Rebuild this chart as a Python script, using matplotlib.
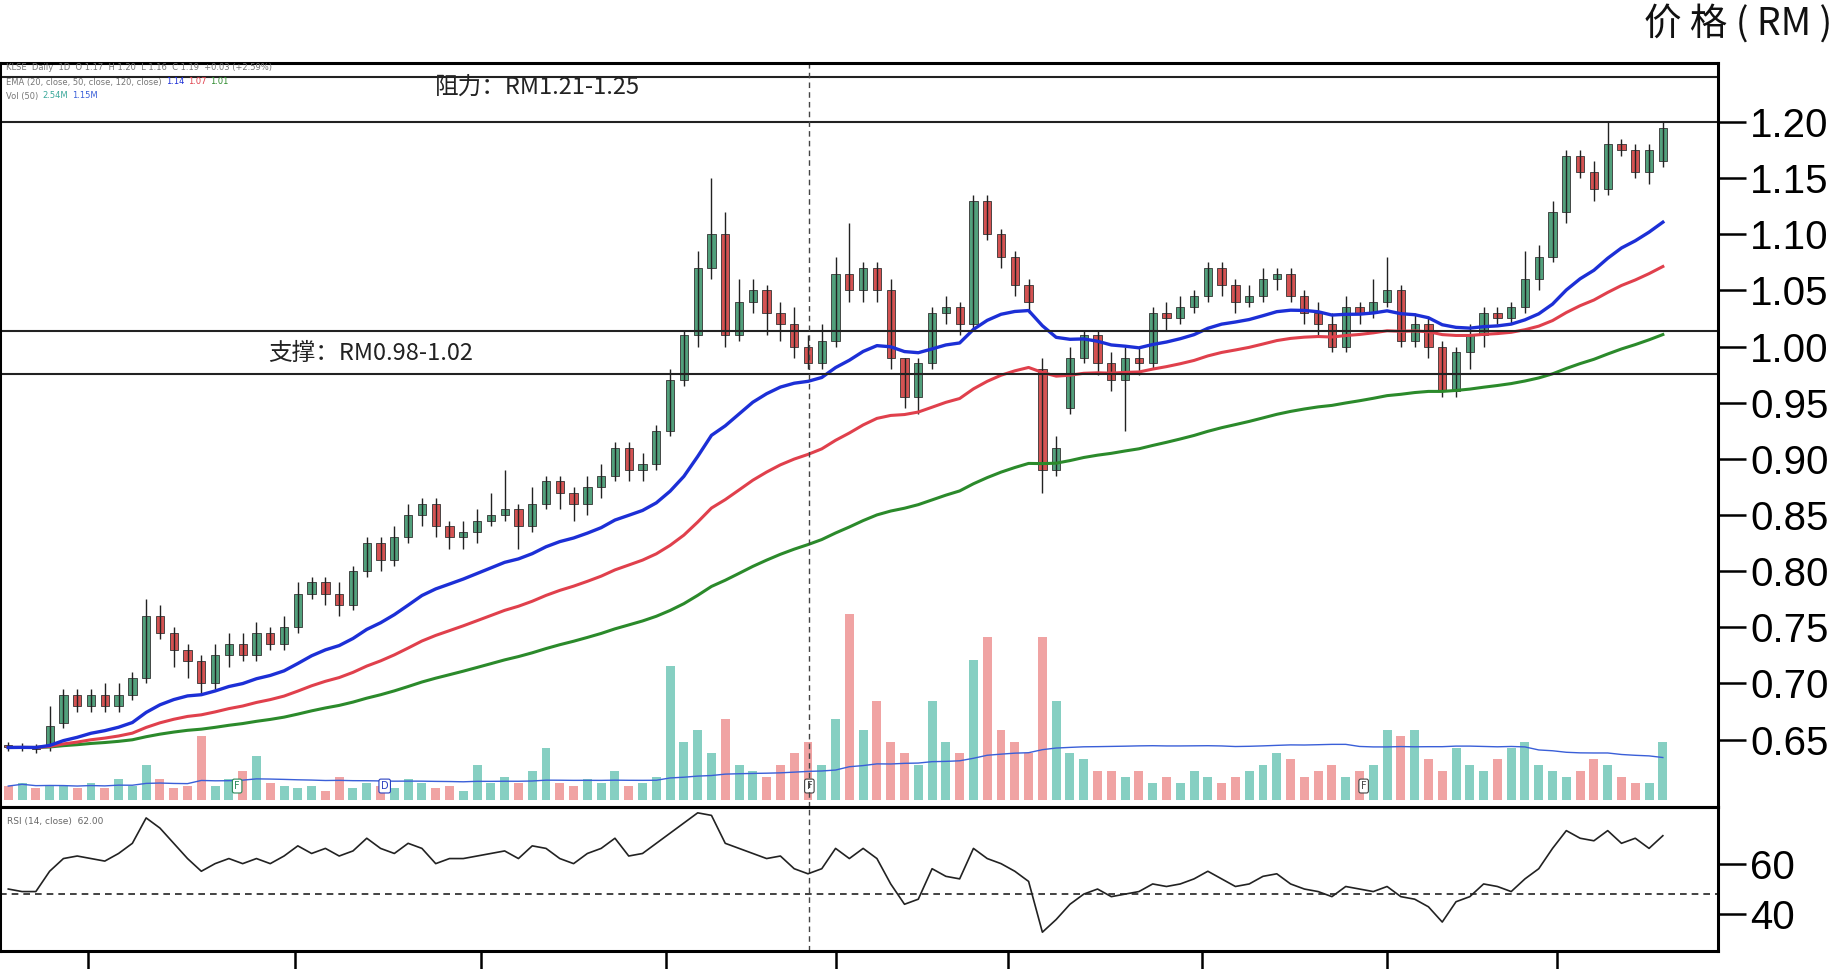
import numpy as np
import pandas as pd
import matplotlib
matplotlib.use("Agg")
import matplotlib.pyplot as plt

opens = [.645,.643,.644,.645,.665,.690,.680,.690,.680,.690,
         .705,.760,.745,.730,.720,.700,.725,.735,.725,.745,
         .735,.750,.780,.790,.780,.770,.800,.825,.810,.830,
         .850,.860,.840,.830,.835,.845,.850,.855,.840,.860,
         .880,.870,.860,.875,.885,.910,.890,.895,.925,.970,
         1.010,1.070,1.100,1.010,1.040,1.050,1.030,1.020,1.000,.985,
         1.005,1.065,1.050,1.070,1.050,.990,.955,.985,1.030,1.035,
         1.020,1.130,1.100,1.080,1.055,.980,.890,.945,.990,1.010,
         .985,.970,.990,.985,1.030,1.025,1.035,1.045,1.070,1.055,
         1.040,1.045,1.060,1.065,1.045,1.030,1.020,1.000,1.035,1.030,
         1.040,1.050,1.005,1.020,1.000,.960,.995,1.010,1.030,1.025,
         1.035,1.060,1.080,1.120,1.170,1.155,1.140,1.180,1.175,1.155,1.165]
closes = [.643,.644,.642,.662,.690,.680,.690,.680,.690,.705,
          .760,.745,.730,.720,.700,.725,.735,.725,.745,.735,
          .750,.780,.790,.780,.770,.800,.825,.810,.830,.850,
          .860,.840,.830,.835,.845,.850,.855,.840,.860,.880,
          .870,.860,.875,.885,.910,.890,.895,.925,.970,1.010,
          1.070,1.100,1.010,1.040,1.050,1.030,1.020,1.000,.985,1.005,
          1.065,1.050,1.070,1.050,.990,.955,.985,1.030,1.035,1.020,
          1.130,1.100,1.080,1.055,1.040,.890,.910,.990,1.010,.985,
          .970,.990,.985,1.030,1.025,1.035,1.045,1.070,1.055,1.040,
          1.045,1.060,1.065,1.045,1.030,1.020,1.000,1.035,1.030,1.040,
          1.050,1.005,1.020,1.000,.960,.995,1.010,1.030,1.025,1.035,
          1.060,1.080,1.120,1.170,1.155,1.140,1.180,1.175,1.155,1.175,1.195]
highs = [.648,.647,.646,.680,.695,.695,.695,.700,.700,.710,
         .775,.770,.750,.735,.725,.735,.745,.745,.755,.750,
         .760,.790,.795,.795,.790,.805,.830,.830,.840,.860,
         .865,.865,.845,.845,.855,.870,.890,.860,.875,.885,
         .885,.875,.885,.895,.915,.915,.905,.930,.980,1.015,
         1.085,1.150,1.120,1.060,1.060,1.055,1.040,1.035,1.010,1.020,
         1.080,1.110,1.075,1.075,1.060,.990,.990,1.035,1.045,1.040,
         1.135,1.135,1.105,1.085,1.060,.990,.920,1.000,1.015,1.015,
         .995,1.000,1.000,1.035,1.040,1.045,1.050,1.075,1.075,1.060,
         1.055,1.070,1.070,1.070,1.050,1.040,1.030,1.045,1.040,1.060,
         1.080,1.055,1.030,1.025,1.005,1.000,1.020,1.035,1.035,1.040,
         1.085,1.090,1.130,1.175,1.175,1.165,1.200,1.185,1.180,1.180,1.200]
lows = [.640,.640,.638,.640,.660,.675,.675,.675,.675,.685,
        .700,.740,.715,.705,.690,.695,.715,.720,.720,.730,
        .730,.745,.775,.770,.760,.765,.795,.800,.805,.825,
        .840,.830,.820,.820,.825,.840,.845,.820,.835,.855,
        .855,.845,.850,.865,.880,.880,.880,.890,.920,.965,
        1.000,1.060,1.000,1.005,1.030,1.010,1.005,.990,.980,.980,
        1.000,1.040,1.040,1.040,.980,.945,.940,.980,1.020,1.010,
        1.015,1.095,1.070,1.045,1.030,.870,.885,.940,.985,.975,
        .960,.925,.975,.980,1.015,1.020,1.030,1.040,1.045,1.030,
        1.035,1.040,1.050,1.040,1.020,1.010,.995,.995,1.020,1.025,
        1.035,1.000,1.000,.990,.955,.955,.980,1.000,1.020,1.020,
        1.030,1.050,1.075,1.110,1.150,1.130,1.135,1.170,1.150,1.145,1.160]
volumes = [1.2,1.5,1.0,1.3,1.2,1.0,1.5,1.0,1.8,1.2,
           3.0,1.8,1.0,1.2,5.5,1.2,1.8,2.5,3.8,1.5,
           1.2,1.0,1.2,0.8,2.0,1.0,1.5,1.2,1.0,1.8,
           1.5,1.0,1.2,0.8,3.0,1.5,2.0,1.5,2.5,4.5,
           1.5,1.2,1.8,1.5,2.5,1.2,1.5,2.0,11.5,5.0,
           6.0,4.0,7.0,3.0,2.5,2.0,3.0,4.0,5.0,3.0,
           7.0,16.0,6.0,8.5,5.0,4.0,3.0,8.5,5.0,4.0,
           12.0,14.0,6.0,5.0,4.0,14.0,8.5,4.0,3.5,2.5,
           2.5,2.0,2.5,1.5,2.0,1.5,2.5,2.0,1.5,2.0,
           2.5,3.0,4.0,3.5,2.0,2.5,3.0,2.0,2.5,3.0,
           6.0,5.5,6.0,3.5,2.5,4.5,3.0,2.5,3.5,4.5,
           5.0,3.0,2.5,2.0,2.5,3.5,3.0,2.0,1.5,1.5,5.0]
rsi = [50,49,49,57,62,63,62,61,64,68,
       78,74,68,62,57,60,62,60,62,60,
       63,67,64,66,63,65,70,66,64,68,
       66,60,62,62,63,64,65,62,67,66,
       62,60,64,66,70,63,64,68,72,76,
       80,79,68,66,64,62,63,58,56,58,
       66,62,66,62,52,44,46,58,55,54,
       66,62,60,57,53,33,38,44,48,50,
       47,48,49,52,51,52,54,57,54,51,
       52,55,56,52,50,49,47,51,50,49,
       51,47,46,43,37,45,47,52,51,49,
       54,58,66,73,70,69,73,68,70,66,71]
price_ticks = [1.20,1.15,1.10,1.05,1.00,0.95,0.90,0.85,0.80,0.75,0.70,0.65]
resist_lines = [1.24, 1.20]
support_lines = [1.014, 0.976]

n = len(closes)
x = np.arange(n)
s = pd.Series(closes)
ema_fast = s.ewm(span=20, adjust=False).mean()
ema_mid = s.ewm(span=40, adjust=False).mean()
ema_slow = s.ewm(span=80, adjust=False).mean()
volma = pd.Series(volumes).rolling(50, min_periods=1).mean()

W, H = 1845, 969
AXW = 1718
fig = plt.figure(figsize=(W/100, H/100), dpi=100)
axp = fig.add_axes([0, (H-807)/H, AXW/W, (807-63)/H])
axr = fig.add_axes([0, (H-951)/H, AXW/W, (951-807)/H])
axv = axp.twinx()
axp.set_zorder(axv.get_zorder()+1); axp.patch.set_visible(False)

GREEN, RED = '#52a07c', '#d45252'
VG, VR = '#86cfc2', '#f0a3a3'
xlim = (-0.6, 124.0)

for i in range(n):
    up = closes[i] >= opens[i]
    axp.vlines(x[i], lows[i], highs[i], color='#222222', lw=1)
    b = min(opens[i], closes[i]); hgt = max(abs(closes[i]-opens[i]), 0.0015)
    axp.bar(x[i], hgt, bottom=b, width=0.6, color=GREEN if up else RED,
            edgecolor='#333333', linewidth=0.6)
axp.plot(x, ema_slow, color='#2b8a2b', lw=2.2)
axp.plot(x, ema_mid, color='#e0404c', lw=2.2)
axp.plot(x, ema_fast, color='#1c2fd6', lw=2.4)
for y in resist_lines + support_lines:
    axp.axhline(y, color='#222222', lw=1.5)
axp.set_ylim(0.590, 1.2525)
axp.set_xlim(*xlim)
axp.yaxis.tick_right()
axp.set_yticks(price_ticks)
axp.set_yticklabels([f"{t:.2f}" for t in price_ticks])
axp.tick_params(axis='y', direction='out', length=20, width=1.8, labelsize=29, pad=3)
axp.set_xticks([])
for t in axp.get_yticklabels():
    t.set_fontfamily('Liberation Sans')
for sp in axp.spines.values():
    sp.set_linewidth(2.2)

vcol = [VG if closes[i] >= opens[i] else VR for i in range(n)]
axv.bar(x, volumes, width=0.65, color=vcol)
axv.plot(x, volma, color='#3a5fd8', lw=1)
axv.set_ylim(-0.6, 63.3)
axv.set_yticks([])
axv.set_xlim(*xlim)
for xi, lab, c in [(16.6, 'F', '#2a8a5a'), (27.3, 'D', '#2a40c0'), (58.1, 'F', '#444444'), (98.3, 'F', '#444444')]:
    axv.text(xi, 1.2, lab, fontsize=7, ha='center', va='center', color=c,
             bbox=dict(boxstyle='round,pad=0.2', fc='white', ec=c, lw=0.8))

axp.axvline(58.1, color='#444444', lw=1, ls=(0, (4, 3)))
axr.axvline(58.1, color='#444444', lw=1, ls=(0, (4, 3)))

axr.plot(x, rsi, color='#222222', lw=1.2)
axr.axhline(48, color='#222222', lw=1.2, ls=(0, (4, 3)))
axr.set_ylim(25.6, 82.3)
axr.set_xlim(*xlim)
axr.yaxis.tick_right()
axr.set_yticks([60, 40])
axr.set_yticklabels(['60', '40'])
axr.tick_params(axis='y', direction='out', length=20, width=1.8, labelsize=29, pad=3)
for t in axr.get_yticklabels():
    t.set_fontfamily('Liberation Sans')
axr.set_xticks([5.8, 20.8, 34.3, 47.7, 60.0, 72.5, 86.6, 100.0, 112.3])
axr.set_xticklabels([])
axr.tick_params(axis='x', direction='out', length=14, width=1.8)
for sp in axr.spines.values():
    sp.set_linewidth(2.2)
axr.text(0.004, 0.93, 'RSI (14, close)  62.00', transform=axr.transAxes, fontsize=6.5, color='#666666', va='top')

cjk = 'Noto Sans CJK SC'
fig.text(435/W, 1-88/H, '阻力：RM1.21-1.25', fontfamily=cjk, fontsize=17, va='center', color='#222222')
fig.text(268/W, 1-353/H, '支撑：RM0.98-1.02', fontfamily=cjk, fontsize=17, va='center', color='#222222')
fig.text(1832/W, 1-24/H, '价 格 ( RM )', fontfamily=cjk, fontsize=27, ha='right', va='center', color='#111111')
fig.text(6/W, 1-68/H, 'KLSE  Daily  1D  O 1.17  H 1.20  L 1.16  C 1.19  +0.03 (+2.59%)', fontsize=6, color='#777777', va='center')
fig.text(6/W, 1-82/H, 'EMA (20, close, 50, close, 120, close)', fontsize=6, color='#777777', va='center')
fig.text(166/W, 1-82/H, '1.14', fontsize=6, color='#1c2fd6', va='center')
fig.text(188/W, 1-82/H, '1.07', fontsize=6, color='#e0404c', va='center')
fig.text(210/W, 1-82/H, '1.01', fontsize=6, color='#2b8a2b', va='center')
fig.text(6/W, 1-96/H, 'Vol (50)', fontsize=6, color='#777777', va='center')
fig.text(42/W, 1-96/H, '2.54M', fontsize=6, color='#3aa89a', va='center')
fig.text(72/W, 1-96/H, '1.15M', fontsize=6, color='#3a5fd8', va='center')

fig.savefig('out.png', dpi=100)
